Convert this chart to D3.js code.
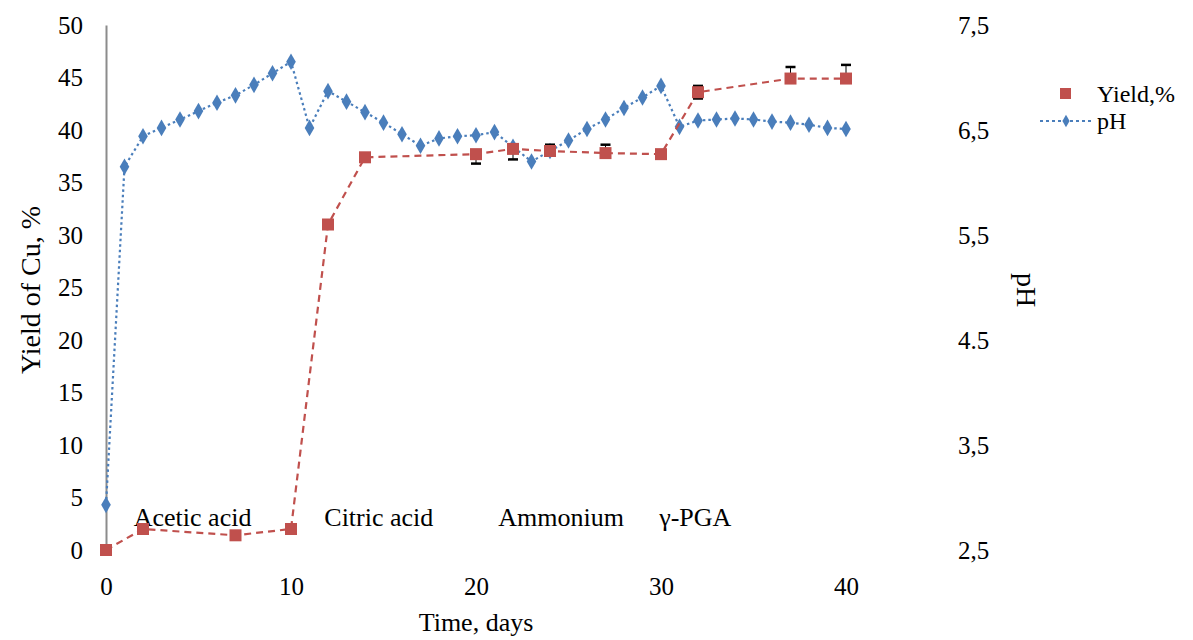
<!DOCTYPE html>
<html><head><meta charset="utf-8">
<script src="https://cdn.jsdelivr.net/npm/d3@7"></script>
<style>
html,body{margin:0;padding:0;background:#fff;}
text{font-family:"Liberation Serif","Times New Roman",serif;fill:#000;}
</style></head>
<body><svg id="chart" width="1193" height="640"></svg>
<script>
// ---- data ----
const yieldDays = [0, 2, 7, 10, 12, 14, 20, 22, 24, 27, 30, 32, 37, 40];
const yieldValues = [0, 2.0, 1.4, 2.0, 31.0, 37.4, 37.7, 38.2, 38.0, 37.8, 37.7, 43.6, 44.9, 44.9];
const yieldErrPlus = [0, 0, 0, 0, 0, 0, 0, 0, 0.6, 0.8, 0, 0.6, 1.1, 1.3];
const yieldErrMinus = [0, 0, 0, 0, 0, 0, 0.9, 1.0, 0, 0, 0, 0.6, 0, 0];
const phDays = [0,1,2,3,4,5,6,7,8,9,10,11,12,13,14,15,16,17,18,19,20,21,22,23,24,25,26,27,28,29,30,31,32,33,34,35,36,37,38,39,40];
const phValues = [2.93,6.15,6.44,6.52,6.60,6.68,6.76,6.83,6.93,7.04,7.15,6.52,6.87,6.77,6.67,6.57,6.46,6.35,6.42,6.44,6.45,6.48,6.34,6.20,6.30,6.40,6.51,6.60,6.71,6.81,6.92,6.53,6.59,6.60,6.61,6.60,6.58,6.57,6.55,6.52,6.51];
const xTicks = [0, 10, 20, 30, 40];
const yLeftTicks = [0,5,10,15,20,25,30,35,40,45,50];
const yRightTicks = [2.5, 3.5, 4.5, 5.5, 6.5, 7.5];
const yRightLabels = ["2,5", "3,5", "4.5", "5,5", "6,5", "7,5"];
const phaseLabels = ["Acetic acid", "Citric acid", "Ammonium", "γ-PGA"];
const phaseStart = [1.5, 11.8, 21.2, 29.9];
const seriesNames = ["Yield,%", "pH"];

const svg = d3.select("#chart");
const x = d3.scaleLinear().domain([0, 40]).range([106, 846]);
const yL = d3.scaleLinear().domain([0, 50]).range([550, 25]);
const yR = d3.scaleLinear().domain([2.5, 7.5]).range([550, 25]);
const red = "#C0504D", blue = "#4A7EBB";
const tickFont = "25px";

// axes
const gL = svg.append("g").attr("transform", "translate(106,0)")
  .call(d3.axisLeft(yL).tickValues(yLeftTicks).tickSize(0).tickPadding(23));
gL.select(".domain").attr("stroke", "#8c8c8c").attr("stroke-width", 2);
gL.selectAll("text").style("font-size", tickFont).style("font-family", '"Liberation Serif",serif');

const gB = svg.append("g").attr("transform", "translate(0,550)")
  .call(d3.axisBottom(x).tickValues(xTicks).tickSize(0).tickPadding(27));
gB.select(".domain").remove();
gB.selectAll("text").style("font-size", tickFont).style("font-family", '"Liberation Serif",serif');

const gR = svg.append("g").attr("transform", "translate(940,0)")
  .call(d3.axisRight(yR).tickValues(yRightTicks).tickSize(0).tickPadding(18)
    .tickFormat((d, i) => yRightLabels[i]));
gR.select(".domain").remove();
gR.selectAll("text").style("font-size", tickFont).style("font-family", '"Liberation Serif",serif');

// axis titles
svg.append("text").attr("transform", "translate(40,290) rotate(-90)")
  .attr("text-anchor", "middle").style("font-size", "28px").text("Yield of Cu, %");
svg.append("text").attr("transform", "translate(1017,290) rotate(90)")
  .attr("text-anchor", "middle").style("font-size", "28px").text("pH");
svg.append("text").attr("x", 476).attr("y", 631)
  .attr("text-anchor", "middle").style("font-size", "26px").text("Time, days");

// phase labels
svg.selectAll("text.phase").data(phaseLabels).enter().append("text")
  .attr("class", "phase").attr("x", (d, i) => x(phaseStart[i])).attr("y", 526)
  .style("font-size", "26px").text(d => d);

// pH line
const phData = phDays.map((d, i) => ({ d, v: phValues[i] }));
svg.append("path").datum(phData)
  .attr("fill", "none").attr("stroke", blue).attr("stroke-width", 2.2)
  .attr("stroke-dasharray", "2.5,3")
  .attr("d", d3.line().x(p => x(p.d)).y(p => yR(p.v)));
svg.selectAll("path.phm").data(phData).enter().append("path").attr("class", "phm")
  .attr("transform", p => `translate(${x(p.d)},${yR(p.v)})`)
  .attr("d", d3.symbol().type(d3.symbolDiamond).size(80))
  .attr("fill", blue);

// yield line
const yData = yieldDays.map((d, i) => ({ d, v: yieldValues[i], ep: yieldErrPlus[i], em: yieldErrMinus[i] }));
svg.append("path").datum(yData)
  .attr("fill", "none").attr("stroke", red).attr("stroke-width", 2.2)
  .attr("stroke-dasharray", "7,5")
  .attr("d", d3.line().x(p => x(p.d)).y(p => yL(p.v)));

// error bars
const eb = svg.append("g");
yData.forEach(p => {
  if (p.ep > 0) {
    eb.append("line").attr("x1", x(p.d)).attr("x2", x(p.d)).attr("y1", yL(p.v)).attr("y2", yL(p.v + p.ep)).attr("stroke", "#000").attr("stroke-width", 1);
    eb.append("line").attr("x1", x(p.d) - 5).attr("x2", x(p.d) + 5).attr("y1", yL(p.v + p.ep)).attr("y2", yL(p.v + p.ep)).attr("stroke", "#000").attr("stroke-width", 2.5);
  }
  if (p.em > 0) {
    eb.append("line").attr("x1", x(p.d)).attr("x2", x(p.d)).attr("y1", yL(p.v)).attr("y2", yL(p.v - p.em)).attr("stroke", "#000").attr("stroke-width", 1);
    eb.append("line").attr("x1", x(p.d) - 5).attr("x2", x(p.d) + 5).attr("y1", yL(p.v - p.em)).attr("y2", yL(p.v - p.em)).attr("stroke", "#000").attr("stroke-width", 2.5);
  }
});

svg.selectAll("rect.ym").data(yData).enter().append("rect").attr("class", "ym")
  .attr("x", p => x(p.d) - 6).attr("y", p => yL(p.v) - 6)
  .attr("width", 12).attr("height", 12).attr("fill", red);

// legend
const lg = svg.append("g");
lg.append("rect").attr("x", 1060).attr("y", 88).attr("width", 11).attr("height", 11).attr("fill", red);
lg.append("text").attr("x", 1097).attr("y", 102).style("font-size", "24px").text(seriesNames[0]);
lg.append("line").attr("x1", 1040).attr("x2", 1093).attr("y1", 121).attr("y2", 121)
  .attr("stroke", blue).attr("stroke-width", 2).attr("stroke-dasharray", "3,3");
lg.append("path").attr("transform", "translate(1066,121)")
  .attr("d", d3.symbol().type(d3.symbolDiamond).size(45)).attr("fill", blue);
lg.append("text").attr("x", 1097).attr("y", 129).style("font-size", "24px").text(seriesNames[1]);
</script></body></html>
